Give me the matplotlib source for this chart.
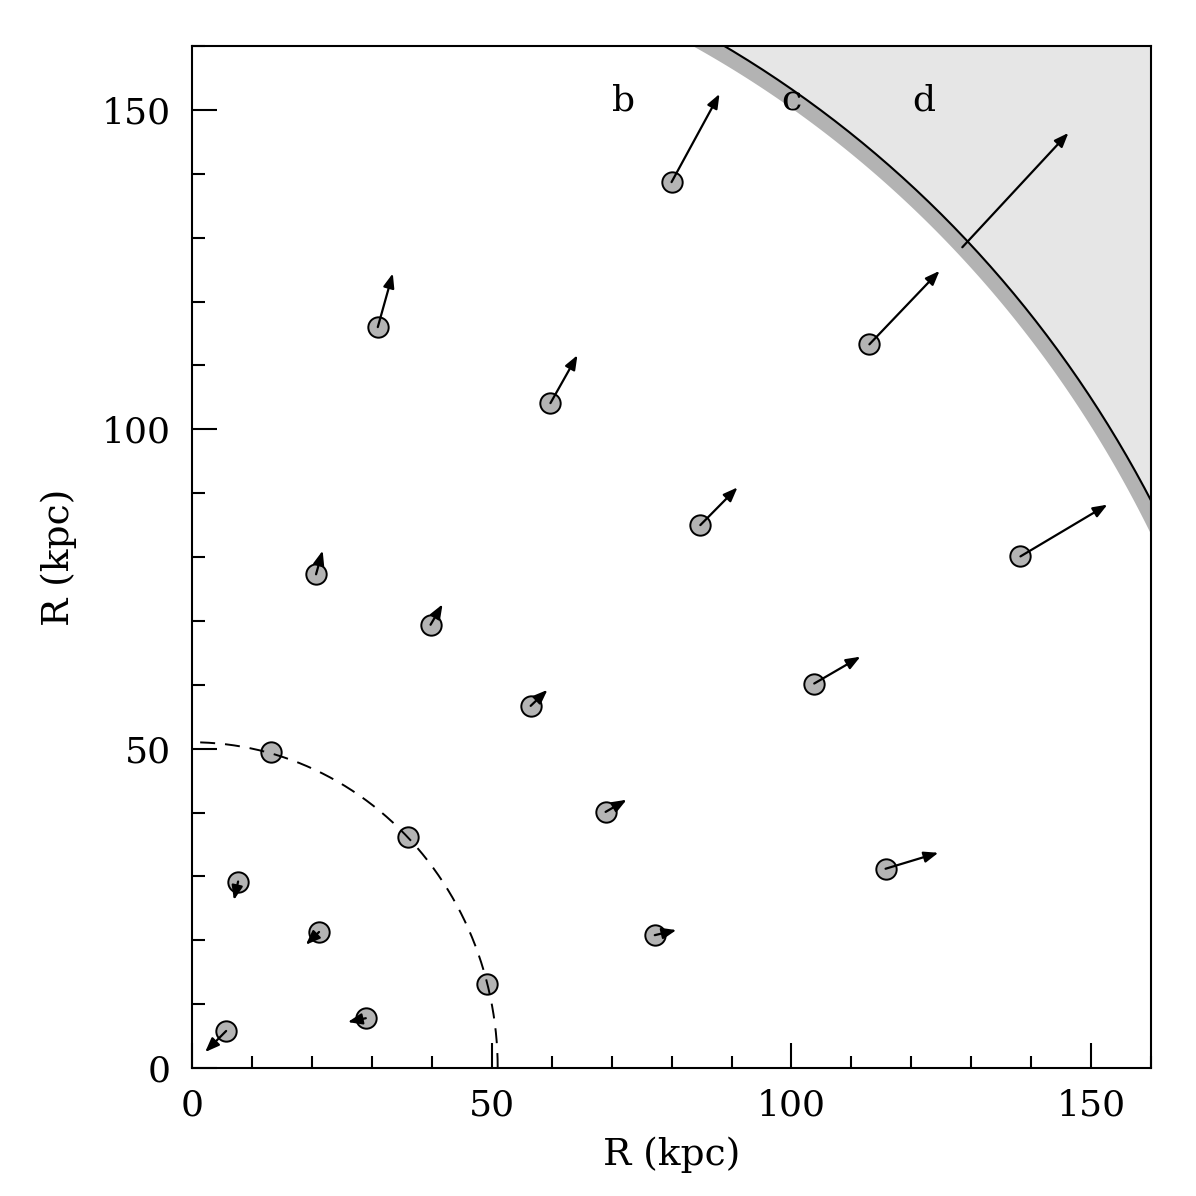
import numpy as np
import matplotlib
matplotlib.use("Agg")
import matplotlib.pyplot as plt
from matplotlib.ticker import MultipleLocator

plt.rcParams["font.family"] = ["DejaVu Serif"]

# positions of the objects (kpc) and arrow tips
x0 = [5.7, 29.0, 21.2, 7.7, 49.2, 36.0, 13.2, 77.2, 69.0, 56.5, 39.8, 20.7,
      31.0, 59.8, 80.0, 84.8, 103.8, 113.0, 115.7, 138.2]
y0 = [5.8, 7.8, 21.3, 29.2, 13.2, 36.2, 49.4, 20.8, 40.1, 56.7, 69.4, 77.3,
      116.0, 104.1, 138.7, 85.0, 60.2, 113.3, 31.2, 80.1]
x1 = [2.2, 26.0, 19.0, 7.0, None, None, None, 80.8, 72.5, 59.3, 41.8, 21.8,
      33.5, 64.3, 88.0, 91.0, 111.5, 124.7, 124.5, 152.7]
y1 = [2.5, 7.2, 19.3, 26.3, None, None, None, 21.6, 42.0, 59.2, 72.6, 81.0,
      124.4, 111.6, 152.5, 90.9, 64.4, 124.8, 33.7, 88.2]
# arrow with no marker, starting on the outer boundary
free_arrow = (128.5, 128.5, 146.2, 146.4)

r_dash = 51.0
r_inner, r_outer = 180.5, 183.0
labels = [("b", 72, 151.5), ("c", 100, 151.5), ("d", 122, 151.5)]

fig = plt.figure(figsize=(11.96, 11.96), dpi=100, facecolor="white")
ax = fig.add_axes([0.1605, 0.107, 0.802, 0.8545])
ax.set_xlim(0, 160)
ax.set_ylim(0, 160)

# shaded regions
th = np.linspace(0, np.pi / 2, 400)
big = 400
ax.fill(np.r_[r_outer * np.cos(th), big, big], np.r_[r_outer * np.sin(th), big, 0],
        color="#e6e6e6", lw=0, zorder=0)
ax.fill(np.r_[r_inner * np.cos(th), r_outer * np.cos(th[::-1])],
        np.r_[r_inner * np.sin(th), r_outer * np.sin(th[::-1])],
        color="#b3b3b3", lw=0, zorder=0)
ax.plot(r_outer * np.cos(th), r_outer * np.sin(th), color="k", lw=1.5, zorder=1)

ax.scatter(x0, y0, s=215, c="#b4b4b4", edgecolors="k", linewidths=1.4, zorder=3)

# dashed circle (drawn over the markers, as in the original)
ax.plot(r_dash * np.cos(th), r_dash * np.sin(th), color="k", lw=1.4,
        dashes=(7.7, 5.1), zorder=3.5)

arrows = [(a, b, c, d) for a, b, c, d in zip(x0, y0, x1, y1) if c is not None]
arrows.append(free_arrow)
for a, b, c, d in arrows:
    ax.annotate("", xy=(c, d), xytext=(a, b),
                arrowprops=dict(arrowstyle="-|>,head_length=0.85,head_width=0.33",
                                color="k", lw=1.6, shrinkA=0, shrinkB=0),
                zorder=4)

for t, lx, ly in labels:
    ax.text(lx, ly, t, fontsize=26, ha="center", va="center")

ax.xaxis.set_major_locator(MultipleLocator(50))
ax.xaxis.set_minor_locator(MultipleLocator(10))
ax.yaxis.set_major_locator(MultipleLocator(50))
ax.yaxis.set_minor_locator(MultipleLocator(10))
ax.tick_params(which="both", direction="in", top=False, right=False,
               labelsize=26, width=1.5)
ax.tick_params(which="major", length=18, pad=15)
ax.tick_params(which="minor", length=9)
for s in ax.spines.values():
    s.set_linewidth(1.5)

ax.set_xlabel("R (kpc)", fontsize=27, labelpad=10)
ax.set_ylabel("R (kpc)", fontsize=27, labelpad=18)

plt.savefig("out.png", dpi=100)
